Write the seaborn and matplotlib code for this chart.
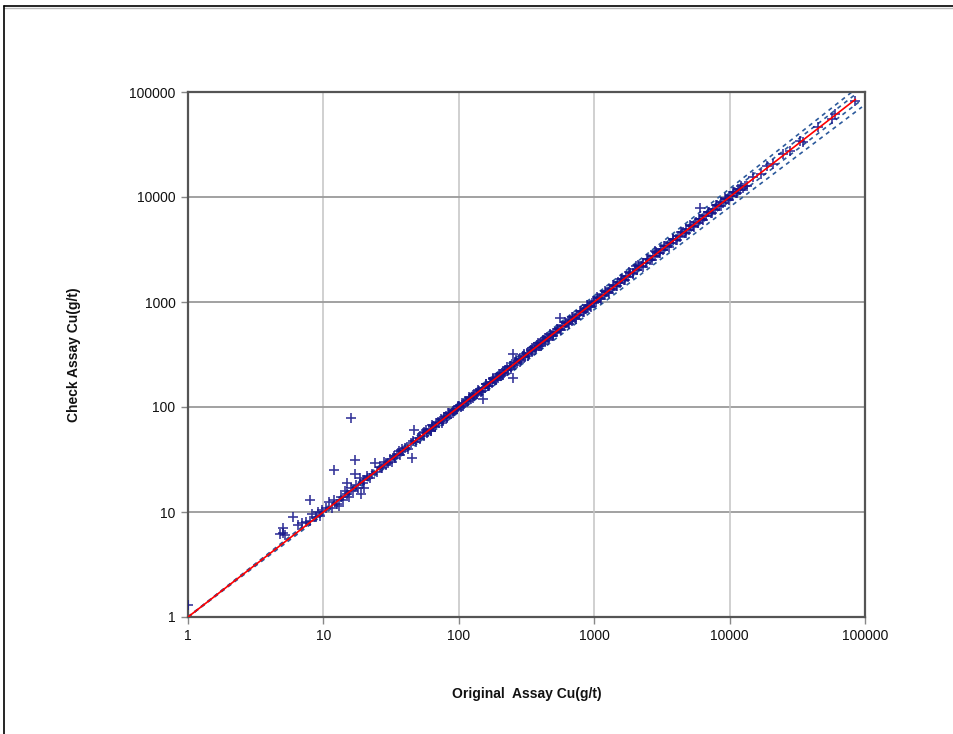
"""Check assay vs original assay Cu (g/t), log-log scatter with 1:1 line."""

import matplotlib

matplotlib.use("Agg")
import matplotlib.pyplot as plt
import seaborn as sns
from matplotlib.lines import Line2D
from matplotlib.ticker import FixedLocator, FixedFormatter, NullLocator

# Paired assays (original, check)
original_cu = [
    1, 4.8, 5, 5, 5.2, 6, 6.5, 7, 7.5, 8, 8, 8.3, 8.8, 9.2, 9.5, 9.8,
    10.5, 11, 11.5, 12, 12, 12.5, 13, 13.5, 14, 14.5, 15, 15, 15.5, 16, 16, 16.5,
    17, 17, 17.5, 18, 18.5, 19, 19.5, 20, 20, 21, 22, 23, 24, 25, 26, 27, 28, 29,
    30, 31, 32, 33, 34, 35, 36, 37, 38, 39, 40, 42, 44, 45, 46, 47, 48, 50, 52, 54,
    55, 57, 58, 60, 62, 63, 65, 67, 70, 72, 74, 76, 78, 80, 82, 85, 88, 90, 92, 95, 97,
    100, 103, 106, 110, 113, 116, 120, 123, 127, 130, 134, 137, 140, 145, 150, 150,
    155, 160, 165, 170, 175, 180, 185, 190, 195, 200, 205, 210, 215, 220, 230, 240,
    245, 250, 250, 255, 260, 270, 280, 290, 300, 310, 320, 330, 340, 350, 360, 370,
    380, 390, 400, 410, 420, 435, 450, 460, 480, 495, 510, 525, 540, 560, 560, 580,
    600, 620, 640, 660, 680, 700, 720, 745, 770, 800, 825, 850, 875, 900, 930, 960, 990,
    1000, 1030, 1070, 1100, 1140, 1180, 1220, 1260, 1300, 1350, 1400, 1450, 1500, 1550,
    1600, 1660, 1720, 1780, 1850, 1920, 2000, 2050, 2080, 2150, 2230, 2300, 2400, 2500,
    2600, 2700, 2800, 2800, 2900, 3000, 3100, 3200, 3350, 3450, 3600, 3700, 3850, 4000,
    4150, 4300, 4500, 4650, 4800, 5000, 5200, 5400, 5600, 5800, 6000, 6050, 6300, 6500,
    6700, 7000, 7250, 7500, 7800, 8100, 8400, 8700, 9000, 9400, 9700,
    10000, 10400, 10800, 11200, 11600, 12000, 12500, 13000, 15000, 17000, 19000, 21000,
    25000, 28000, 33000, 35000, 45000, 57000, 60000, 85000,
    55, 62, 68, 75, 83, 91, 98, 108, 118, 128, 138, 148, 158, 168, 178, 188, 198, 212,
    228, 242, 265, 285, 305, 325, 345, 365, 385, 405, 430, 455, 475, 500, 530, 570, 610,
    650, 690, 730, 780, 840, 890, 950, 1050, 1120, 1200, 1280, 1380, 1480, 1580, 1700,
    1820, 1950, 2120, 2280, 2450, 2650, 2850, 3050, 3280, 3550, 3800, 4100, 4400, 4750,
    5100, 5500, 5900, 6400, 6900, 7400, 8000, 8600, 9200, 9900, 10600, 11400, 12200, 13500,
]
check_cu = [
    1.3, 6.2, 7, 6.3, 6, 9, 7.6, 7.8, 8, 13, 8.2, 9.5, 9, 10, 9.2, 10.5,
    11, 12.5, 11, 25, 13, 12, 11.5, 14, 13, 16, 19, 15, 14, 79, 17, 16,
    31, 23, 18, 17, 21, 15, 19, 20, 17, 22, 21, 23, 29, 24, 27, 26, 30, 28,
    29, 32, 30, 34, 33, 36, 38, 35, 40, 38, 41, 40, 45, 33, 47, 60, 46, 51, 50, 56,
    53, 60, 57, 62, 59, 67, 66, 64, 72, 70, 77, 74, 80, 82, 79, 87, 86, 92, 91, 96, 95,
    102, 100, 108, 107, 115, 113, 123, 120, 130, 127, 137, 133, 143, 140, 120, 153,
    152, 165, 160, 172, 170, 185, 181, 193, 190, 204, 199, 213, 210, 225, 226, 245,
    238, 320, 190, 252, 268, 265, 285, 283, 305, 302, 328, 322, 346, 342, 370, 362,
    388, 380, 410, 400, 430, 425, 460, 450, 490, 480, 520, 515, 552, 700, 548, 592,
    590, 635, 625, 675, 665, 715, 705, 760, 755, 815, 808, 866, 860, 918, 912, 978, 975,
    1020, 1005, 1090, 1080, 1165, 1155, 1250, 1235, 1330, 1320, 1430, 1420, 1540, 1510,
    1640, 1620, 1760, 1740, 1890, 1880, 2050, 2200, 2030, 2200, 2180, 2350, 2340, 2560,
    2530, 2760, 3050, 2740, 2960, 2930, 3170, 3120, 3420, 3380, 3680, 3620, 3950, 3900,
    4250, 4200, 4600, 4550, 4920, 4880, 5320, 5270, 5750, 5660, 7800, 6200, 6150, 6650,
    6550, 7180, 7080, 7700, 7600, 8300, 8200, 8900, 8800, 9620, 9480,
    10250, 10150, 11050, 10950, 11900, 11700, 12200, 12700, 15400, 16500, 19600, 20400,
    25800, 27200, 34500, 33500, 46500, 55000, 62000, 82000,
    58, 59, 71, 71, 87, 87, 103, 103, 124, 122, 145, 141, 166, 160, 187, 179, 208, 202,
    240, 230, 279, 271, 321, 309, 363, 347, 405, 385, 452, 433, 500, 476, 558, 542, 642,
    618, 726, 694, 820, 798, 936, 903, 1105, 1064, 1262, 1216, 1452, 1406, 1662, 1615,
    1915, 1852, 2230, 2166, 2578, 2518, 2998, 2898, 3450, 3372, 3998, 3895, 4629, 4512,
    5365, 5225, 6207, 6080, 7259, 7030, 8416, 8170, 9678, 9405, 11150, 10830, 12830, 12830,
]

# 1:1 line and precision envelope end points
parity_x = [1, 85000]
parity_y = [1, 85000]
envelope_x = {
    "upper_outer": [1, 80000],
    "upper_inner": [1, 85000],
    "lower_inner": [1, 90000],
    "lower_outer": [1, 95000],
}
envelope_y = {
    "upper_outer": [1, 100000],
    "upper_inner": [1, 95000],
    "lower_inner": [1, 80000],
    "lower_outer": [1, 72000],
}

tick_values = [1, 10, 100, 1000, 10000, 100000]
tick_labels = ["1", "10", "100", "1000", "10000", "100000"]

sns.set_theme(style="white")
plt.rcParams["font.family"] = ["Liberation Sans", "DejaVu Sans"]

fig = plt.figure(figsize=(9.54, 7.34), dpi=100)
ax = fig.add_axes([188 / 954, 1 - 617 / 734, (865 - 188) / 954, (617 - 92) / 734])

ax.set_xscale("log")
ax.set_yscale("log")
ax.set_xlim(1, 100000)
ax.set_ylim(1, 100000)

# grid
for v in tick_values[1:-1]:
    ax.axhline(v, color="#9a9a9a", lw=1.3, zorder=0)
    ax.axvline(v, color="#c4c4c4", lw=1.1, zorder=0)

for key in envelope_x:
    sns.lineplot(x=envelope_x[key], y=envelope_y[key], ax=ax, color="#2c5a9c",
                 lw=1.2, linestyle=(0, (2.5, 2.5)), zorder=2)

sns.scatterplot(x=original_cu, y=check_cu, ax=ax, marker="+", color="#16168a",
                s=60, linewidth=1.2, alpha=0.85, zorder=3)

sns.lineplot(x=parity_x, y=parity_y, ax=ax, color="red", lw=1.2, zorder=4)

ax.xaxis.set_major_locator(FixedLocator(tick_values))
ax.xaxis.set_major_formatter(FixedFormatter(tick_labels))
ax.yaxis.set_major_locator(FixedLocator(tick_values))
ax.yaxis.set_major_formatter(FixedFormatter(tick_labels))
ax.xaxis.set_minor_locator(NullLocator())
ax.yaxis.set_minor_locator(NullLocator())
ax.tick_params(axis="both", which="major", length=5, width=1, color="#888888",
               labelsize=10, labelcolor="#111111", pad=4, direction="out",
               left=True, bottom=True)

for side in ax.spines.values():
    side.set_color("#555555")
    side.set_linewidth(1.6)

ax.set_xlabel("Original  Assay Cu(g/t)", fontsize=10, fontweight="bold",
              color="#111111", labelpad=31)
ax.set_ylabel("Check Assay Cu(g/t)", fontsize=10, fontweight="bold",
              color="#111111", labelpad=35)

# page frame
fig.add_artist(Line2D([4 / 954, 1], [1 - 6 / 734, 1 - 6 / 734], color="black", lw=1.2))
fig.add_artist(Line2D([4 / 954, 1], [1 - 8 / 734, 1 - 8 / 734], color="#bbbbbb", lw=1.0))
fig.add_artist(Line2D([4 / 954, 4 / 954], [0, 1 - 6 / 734], color="black", lw=1.2))

fig.savefig("out.png", dpi=100)
